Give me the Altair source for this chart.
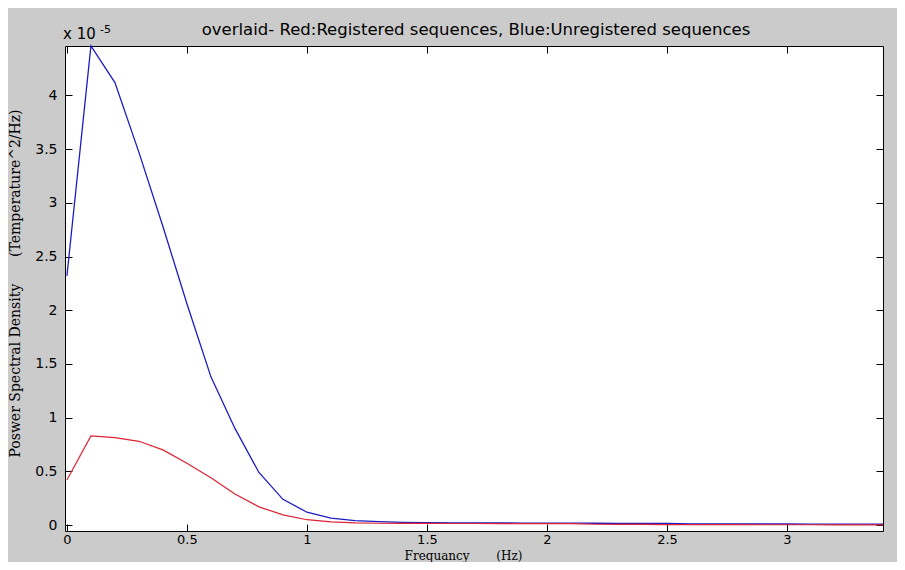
import altair as alt
import pandas as pd

FREQ = [0.0, 0.1, 0.2, 0.3, 0.4, 0.5, 0.6, 0.7, 0.8, 0.9, 1.0, 1.1, 1.2, 1.3, 1.4,
        1.5, 1.6, 1.7, 1.8, 1.9, 2.0, 2.1, 2.2, 2.3, 2.4, 2.5, 2.6, 2.7, 2.8, 2.9,
        3.0, 3.1, 3.2, 3.3, 3.4]
# values in units of 1e-5
UNREG = [2.32, 4.46, 4.12, 3.47, 2.78, 2.06, 1.38, 0.90, 0.49, 0.24, 0.12, 0.065,
         0.042, 0.032, 0.026, 0.022, 0.021, 0.020, 0.020, 0.019, 0.018, 0.018,
         0.017, 0.016, 0.016, 0.015, 0.012, 0.011, 0.010, 0.010, 0.010, 0.009,
         0.009, 0.009, 0.008]
REG = [0.42, 0.83, 0.815, 0.78, 0.70, 0.575, 0.44, 0.29, 0.17, 0.095, 0.05, 0.03,
       0.02, 0.017, 0.016, 0.016, 0.015, 0.015, 0.014, 0.014, 0.013, 0.013,
       0.008, 0.006, 0.006, 0.005, 0.005, 0.004, 0.004, 0.003, 0.003, 0.003,
       0.002, 0.002, 0.002]
X_TICKS = [0, 0.5, 1, 1.5, 2, 2.5, 3]
Y_TICKS = [0, 0.5, 1, 1.5, 2, 2.5, 3, 3.5, 4]

TITLE = "overlaid- Red:Registered sequences, Blue:Unregistered sequences"
X_TITLE = "Frequancy" + "\u00a0" * 7 + "(Hz)"
Y_TITLE = "Poswer Spectral Density" + "\u00a0" * 6 + "(Temperature^2/Hz)"

df_b = pd.DataFrame({"f": FREQ, "v": UNREG})
df_r = pd.DataFrame({"f": FREQ, "v": REG})

W, H = 818, 485
xs = alt.Scale(domain=[-0.008, 3.4], nice=False, zero=False)
ys = alt.Scale(domain=[-0.055, 4.46], nice=False, zero=False)

SANS = "DejaVu Sans"
SERIF = "DejaVu Serif"

common = dict(tickSize=7, tickColor="black", tickWidth=1, domain=False, grid=False,
              labelFont=SANS, labelFontSize=14, labelColor="black", labelFlush=False,
              offset=-7)
x_common = dict(common, labelFontSize=13)

blue = alt.Chart(df_b).mark_line(color="#1c1cc4", strokeWidth=1.3).encode(
    x=alt.X("f:Q", scale=xs, axis=alt.Axis(
        orient="bottom", values=X_TICKS, format="~g", labelPadding=2,
        title=X_TITLE, titleFont=SERIF, titleFontSize=12, titleFontWeight="normal",
        titleColor="black", titleX=398, titleY=35, titleBaseline="alphabetic",
        titleAlign="center", **x_common)),
    y=alt.Y("v:Q", scale=ys, axis=alt.Axis(
        orient="left", values=Y_TICKS, format="~g", labelPadding=8,
        title=Y_TITLE, titleFont=SERIF, titleFontSize=14, titleFontWeight="normal",
        titleColor="black", titleX=-57, titleY=237, titleBaseline="middle",
        titleAlign="center", titleAngle=270, **common)),
)

red = alt.Chart(df_r).mark_line(color="#dd2233", strokeWidth=1.2).encode(
    x=alt.X("f:Q", scale=xs, axis=alt.Axis(
        orient="top", values=X_TICKS, labels=False, title=None, **x_common)),
    y=alt.Y("v:Q", scale=ys, axis=alt.Axis(
        orient="right", values=Y_TICKS, labels=False, title=None, **common)),
)

one = pd.DataFrame({"t": [TITLE], "a": ["x 10"], "e": ["-5"]})
title = alt.Chart(one).mark_text(font=SANS, fontSize=16.5, color="black", align="center",
                                 baseline="alphabetic").encode(
    text="t:N", x=alt.value(411), y=alt.value(-11))
exp_a = alt.Chart(one).mark_text(font=SANS, fontSize=15, color="black", align="left",
                                 baseline="alphabetic").encode(
    text="a:N", x=alt.value(-2), y=alt.value(-7))
exp_e = alt.Chart(one).mark_text(font=SANS, fontSize=11, color="black", align="left",
                                 baseline="alphabetic").encode(
    text="e:N", x=alt.value(35), y=alt.value(-13))

chart = alt.layer(blue, red, title, exp_a, exp_e).resolve_axis(
    x="independent", y="independent"
).properties(
    width=W, height=H,
    padding={"left": 57, "top": 38, "right": 14, "bottom": 31},
    autosize=alt.AutoSizeParams(type="none"),
    background="#cbcbcb",
).configure_view(stroke="black", strokeWidth=1, fill="white")

chart.save("out.html", embed_options={"renderer": "svg", "actions": False})
